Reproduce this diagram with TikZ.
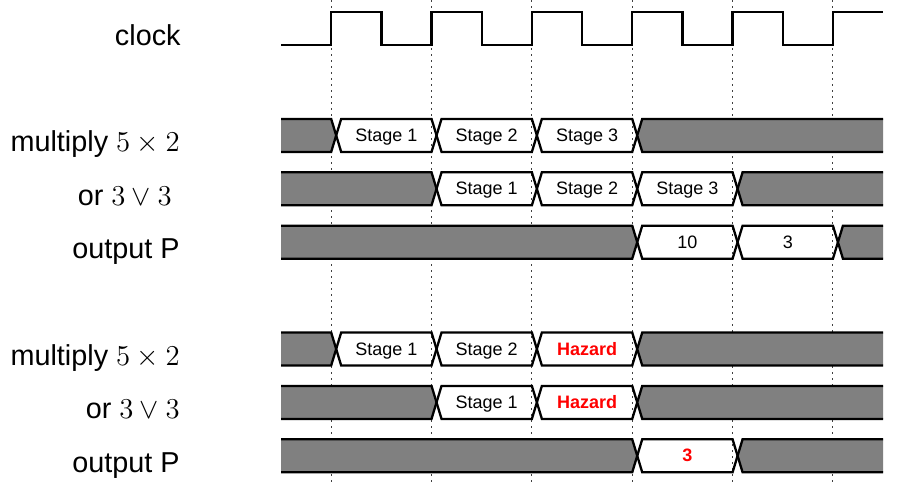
\documentclass[tikz,border=0pt]{standalone}
\usepackage[no-math]{fontspec}
\setmainfont{Liberation Sans}
\definecolor{busgray}{gray}{0.5}

% one unit = one pixel of the 921 x 483 canvas, y pointing down
\tikzset{
  x=0.5pt, y=-0.5pt,
  wire/.style={line width=1.15pt, line join=miter},
  gridline/.style={line width=0.5pt, black!75, dash pattern=on 1pt off 2pt},
  sig/.style={font=\fontsize{14.4}{17}\selectfont, anchor=base east, inner sep=0pt},
  stagetxt/.style={font=\fontsize{9}{11}\selectfont, anchor=base, inner sep=0pt},
  hazardtxt/.style={font=\fontsize{9}{11}\selectfont\bfseries, text=red, anchor=base, inner sep=0pt},
}

\newcommand\per{100.35}  % clock period
\newcommand\sw{10}       % width of a bus transition
\newcommand\hh{16.5}     % half height of a signal

% bus value between two transitions: #1 centre y, #2 start, #3 end,
% #4 extra path style, #5 node name, #6 node style, #7 text
\newcommand\busseg[7]{%
  \pgfmathsetmacro\xa{281+(#2)*\per}%
  \pgfmathsetmacro\xb{281+(#3)*\per}%
  \draw[wire,#4] ({\xa+\sw/2},#1) -- ({\xa+\sw},{#1-\hh}) -- (\xb,{#1-\hh})
    -- ({\xb+\sw/2},#1) -- (\xb,{#1+\hh}) -- ({\xa+\sw},{#1+\hh}) -- cycle;
  \node[#6] (#5) at ({(\xa+\xb+\sw)/2},{#1+6}) {#7};
}
% undefined (grey) bus from the left edge up to a transition at #2
\newcommand\busstart[2]{%
  \pgfmathsetmacro\xb{281+(#2)*\per}%
  \fill[busgray] (281,{#1-\hh}) -- (\xb,{#1-\hh}) -- ({\xb+\sw/2},#1)
    -- (\xb,{#1+\hh}) -- (281,{#1+\hh}) -- cycle;
  \draw[wire] (281,{#1-\hh}) -- (\xb,{#1-\hh}) -- ({\xb+\sw/2},#1)
    -- (\xb,{#1+\hh}) -- (281,{#1+\hh});
}
% undefined (grey) bus from a transition at #2 to the right edge
\newcommand\busend[2]{%
  \pgfmathsetmacro\xa{281+(#2)*\per}%
  \fill[busgray] (883,{#1-\hh}) -- ({\xa+\sw},{#1-\hh}) -- ({\xa+\sw/2},#1)
    -- ({\xa+\sw},{#1+\hh}) -- (883,{#1+\hh}) -- cycle;
  \draw[wire] (883,{#1-\hh}) -- ({\xa+\sw},{#1-\hh}) -- ({\xa+\sw/2},#1)
    -- ({\xa+\sw},{#1+\hh}) -- (883,{#1+\hh});
}

\begin{document}
\begin{tikzpicture}
\useasboundingbox (0,0) rectangle (921,483);

% clock-edge grid
\foreach \k in {0,...,5}
  \draw[gridline] ({281+(\k+0.5)*\per},0) -- ({281+(\k+0.5)*\per},483);

% clock
\draw[wire] (281,45.1)
  \foreach \k in {0,...,4} {
    -- ({281+(\k+0.5)*\per},45.1) -- ({281+(\k+0.5)*\per},12.1)
    -- ({281+(\k+1)*\per},12.1) -- ({281+(\k+1)*\per},45.1) }
  -- ({281+5.5*\per},45.1) -- ({281+5.5*\per},12.1) -- (883,12.1);
\node[sig] (lclk) at (181,45.1) {clock};

% pipelined execution
\node[sig] (lmulA) at (180,151.9) {multiply $5\times 2$};
\busstart{135.4}{0.5}
\busseg{135.4}{0.5}{1.5}{}{mA1}{stagetxt}{Stage 1}
\busseg{135.4}{1.5}{2.5}{}{mA2}{stagetxt}{Stage 2}
\busseg{135.4}{2.5}{3.5}{}{mA3}{stagetxt}{Stage 3}
\busend{135.4}{3.5}

\node[sig] (lorA) at (172,205.3) {or $3\vee 3$};
\busstart{188.8}{1.5}
\busseg{188.8}{1.5}{2.5}{}{oA1}{stagetxt}{Stage 1}
\busseg{188.8}{2.5}{3.5}{}{oA2}{stagetxt}{Stage 2}
\busseg{188.8}{3.5}{4.5}{}{oA3}{stagetxt}{Stage 3}
\busend{188.8}{4.5}

\node[sig] (loutA) at (180,258.7) {output P};
\busstart{242.2}{3.5}
\busseg{242.2}{3.5}{4.5}{}{pA1}{stagetxt}{10}
\busseg{242.2}{4.5}{5.5}{}{pA2}{stagetxt}{3}
\busend{242.2}{5.5}

% execution with a hazard
\node[sig] (lmulB) at (180,365.5) {multiply $5\times 2$};
\busstart{349.0}{0.5}
\busseg{349.0}{0.5}{1.5}{}{mB1}{stagetxt}{Stage 1}
\busseg{349.0}{1.5}{2.5}{}{mB2}{stagetxt}{Stage 2}
\busseg{349.0}{2.5}{3.5}{}{mB3}{hazardtxt}{Hazard}
\busend{349.0}{3.5}

\node[sig] (lorB) at (180,418.9) {or $3\vee 3$};
\busstart{402.4}{1.5}
\busseg{402.4}{1.5}{2.5}{}{oB1}{stagetxt}{Stage 1}
\busseg{402.4}{2.5}{3.5}{}{oB2}{hazardtxt}{Hazard}
\busend{402.4}{3.5}

\node[sig] (loutB) at (180,472.3) {output P};
\busstart{455.8}{3.5}
\busseg{455.8}{3.5}{4.5}{}{pB1}{hazardtxt}{3}
\busend{455.8}{4.5}
\end{tikzpicture}
\end{document}
